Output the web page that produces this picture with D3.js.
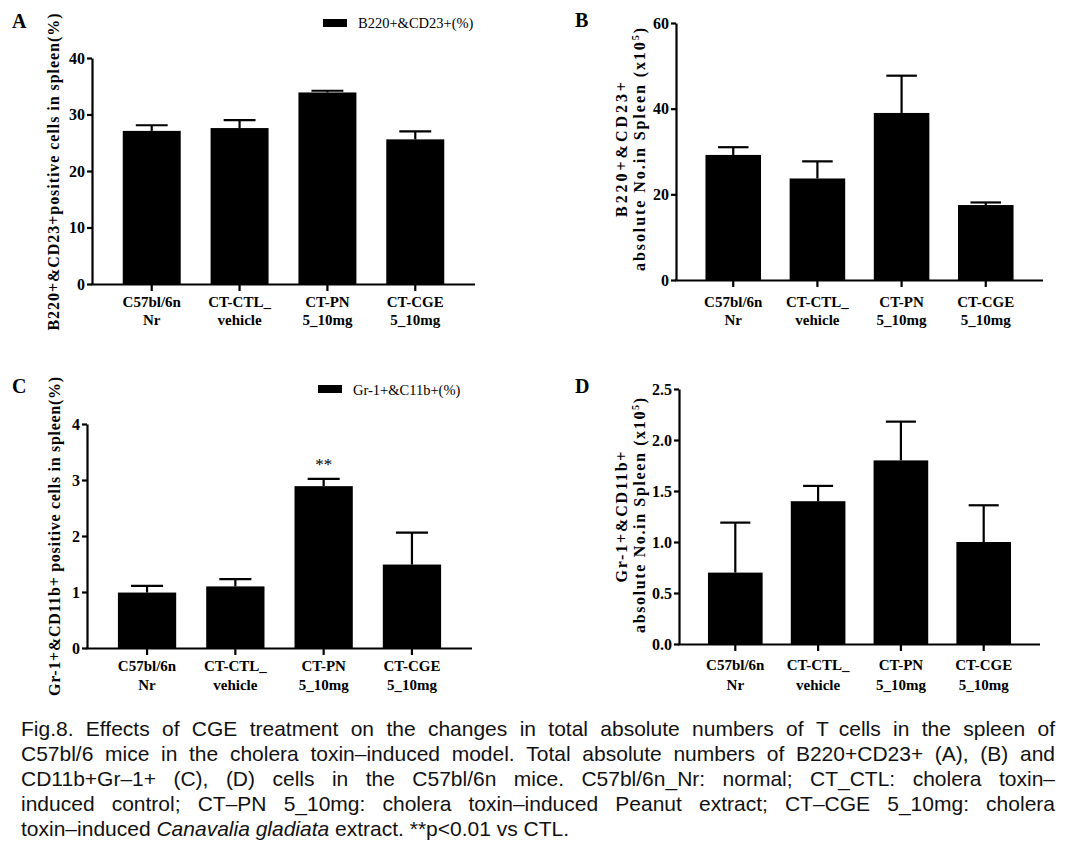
<!DOCTYPE html>
<html><head><meta charset="utf-8">
<script src="https://cdn.jsdelivr.net/npm/d3@7"></script>
<style>body{margin:0;background:#fff} svg{display:block}</style>
</head><body>
<svg id="c" width="1076" height="848"></svg>
<script>
// ---------- data ----------
const groupTop = ["C57bl/6n", "CT-CTL_", "CT-PN", "CT-CGE"];
const groupBottom = ["Nr", "vehicle", "5_10mg", "5_10mg"];
const b220Pct = [27.1, 27.6, 33.9, 25.6];
const b220PctErr = [1.0, 1.4, 0.3, 1.4];
const b220Abs = [29.2, 23.7, 39.0, 17.5];
const b220AbsErr = [1.8, 4.0, 8.7, 0.6];
const gr1Pct = [0.99, 1.1, 2.89, 1.49];
const gr1PctErr = [0.12, 0.13, 0.13, 0.57];
const gr1Abs = [0.7, 1.4, 1.8, 1.0];
const gr1AbsErr = [0.49, 0.15, 0.38, 0.36];
const ticksA = [0, 10, 20, 30, 40];
const ticksB = [0, 20, 40, 60];
const ticksC = [0, 1, 2, 3, 4];
const ticksD = [0, 0.5, 1.0, 1.5, 2.0, 2.5];
const sigC = ["", "", "**", ""];
const legendA = "B220+&CD23+(%)";
const legendC = "Gr-1+&C11b+(%)";
const captionLines = [
  "Fig.8. Effects of CGE treatment on the changes in total absolute numbers of T cells in the spleen of",
  "C57bl/6 mice in the cholera toxin–induced model. Total absolute numbers of B220+CD23+ (A), (B) and",
  "CD11b+Gr–1+ (C), (D) cells in the C57bl/6n mice. C57bl/6n_Nr: normal; CT_CTL: cholera toxin–",
  "induced control; CT–PN 5_10mg: cholera toxin–induced Peanut extract; CT–CGE 5_10mg: cholera"
];
const captionLast = [["toxin–induced ", false], ["Canavalia gladiata", true], [" extract. **p<0.01 vs CTL.", false]];

// ---------- drawing ----------
const svg = d3.select("#c");
const serif = "'Liberation Serif','Times New Roman',serif";

const panels = [
  {letter: "A", lx: 12, ly: 28, means: b220Pct, errs: b220PctErr, ticks: ticksA, fmt: d3.format("d"), max: 40,
   x0: 92, x1: 475, yt: 58, yb: 284, l1: 23, l2: 41,
   titles: [{t: "B220+&CD23+positive cells in spleen(%)", bx: 59, yc: 172, len: 317}],
   legend: {text: legendA, rx: 323, ry: 19, tx: 358, ty: 28}},
  {letter: "B", lx: 575, ly: 27, means: b220Abs, errs: b220AbsErr, ticks: ticksB, fmt: d3.format("d"), max: 60,
   x0: 676, x1: 1043, yt: 23, yb: 280, l1: 27, l2: 45,
   titles: [{t: "B220+&CD23+", bx: 627, yc: 149.5, len: 135},
            {t: "absolute No.in Spleen (x10", sup: "5", end: ")", bx: 645, yc: 149.5, len: 243}]},
  {letter: "C", lx: 12, ly: 393, means: gr1Pct, errs: gr1PctErr, ticks: ticksC, fmt: d3.format("d"), max: 4,
   x0: 87, x1: 472, yt: 424, yb: 648, l1: 23, l2: 42, sig: sigC,
   titles: [{t: "Gr-1+&CD11b+ positive cells in spleen(%)", bx: 60, yc: 536.5, len: 319}],
   legend: {text: legendC, rx: 318, ry: 385, tx: 353, ty: 395}},
  {letter: "D", lx: 575, ly: 393, means: gr1Abs, errs: gr1AbsErr, ticks: ticksD, fmt: d3.format(".1f"), max: 2.5,
   x0: 679, x1: 1040, yt: 389, yb: 644, l1: 26, l2: 46,
   titles: [{t: "Gr-1+&CD11b+", bx: 627, yc: 517, len: 131},
            {t: "absolute No.in Spleen (x10", sup: "5", end: ")", bx: 645, yc: 515.5, len: 235}]}
];

panels.forEach(p => {
  const g = svg.append("g");
  const x = d3.scaleBand().domain(d3.range(p.means.length)).range([p.x0, p.x1])
    .paddingInner(0.34).paddingOuter(0.35);
  const y = d3.scaleLinear().domain([0, p.max]).range([p.yb, p.yt]);
  const bw = x.bandwidth();
  const cw = bw * 0.55;
  const cx = i => x(i) + bw / 2;

  // bars
  g.selectAll("rect.bar").data(p.means).join("rect").attr("class", "bar")
    .attr("x", (d, i) => x(i)).attr("width", bw)
    .attr("y", d => y(d)).attr("height", d => y(0) - y(d)).attr("fill", "#000");

  // error bars
  const tops = p.means.map((m, i) => m + p.errs[i]);
  g.selectAll("line.ev").data(p.means).join("line").attr("class", "ev")
    .attr("x1", (d, i) => cx(i)).attr("x2", (d, i) => cx(i))
    .attr("y1", d => y(d)).attr("y2", (d, i) => y(tops[i]))
    .attr("stroke", "#000").attr("stroke-width", 2.2);
  g.selectAll("line.ec").data(tops).join("line").attr("class", "ec")
    .attr("x1", (d, i) => cx(i) - cw / 2).attr("x2", (d, i) => cx(i) + cw / 2)
    .attr("y1", d => y(d)).attr("y2", d => y(d))
    .attr("stroke", "#000").attr("stroke-width", 2.2);

  // significance
  if (p.sig) {
    g.selectAll("text.sig").data(p.sig).join("text").attr("class", "sig")
      .attr("x", (d, i) => cx(i)).attr("y", (d, i) => y(tops[i]) - 9)
      .attr("text-anchor", "middle").attr("font-family", serif).attr("font-size", 17)
      .text(d => d);
  }

  // y axis
  const ya = g.append("g").attr("transform", `translate(${p.x0},0)`)
    .call(d3.axisLeft(y).tickValues(p.ticks).tickFormat(p.fmt).tickSize(5).tickSizeOuter(0).tickPadding(2));
  // x axis
  const xa = g.append("g").attr("transform", `translate(0,${p.yb})`)
    .call(d3.axisBottom(x).tickSize(7).tickSizeOuter(0).tickFormat(""));
  [ya, xa].forEach(a => {
    a.selectAll("path,line").attr("stroke", "#000").attr("stroke-width", 2.2);
    a.selectAll("text").attr("font-family", serif).attr("font-weight", "bold")
      .attr("font-size", 16).attr("fill", "#000");
  });
  xa.select("path.domain").attr("d", `M${p.x0 - 1},0.5H${p.x1}`);

  // x labels
  g.selectAll("text.xl1").data(groupTop).join("text").attr("class", "xl1")
    .attr("x", (d, i) => cx(i)).attr("y", p.yb + p.l1).attr("text-anchor", "middle")
    .attr("font-family", serif).attr("font-weight", "bold").attr("font-size", 15).text(d => d);
  g.selectAll("text.xl2").data(groupBottom).join("text").attr("class", "xl2")
    .attr("x", (d, i) => cx(i)).attr("y", p.yb + p.l2).attr("text-anchor", "middle")
    .attr("font-family", serif).attr("font-weight", "bold").attr("font-size", 15).text(d => d);

  // y titles
  p.titles.forEach(tt => {
    const t = g.append("text").attr("transform", `translate(${tt.bx},${tt.yc}) rotate(-90)`)
      .attr("text-anchor", "middle").attr("font-family", serif).attr("font-weight", "bold")
      .attr("font-size", 16).attr("textLength", tt.len).attr("lengthAdjust", "spacing");
    t.append("tspan").text(tt.t);
    if (tt.sup) {
      t.append("tspan").attr("dy", -6).attr("font-size", 10).text(tt.sup);
      t.append("tspan").attr("dy", 6).text(tt.end);
    }
  });

  // panel letter
  g.append("text").attr("x", p.lx).attr("y", p.ly).attr("font-family", serif)
    .attr("font-weight", "bold").attr("font-size", 20).text(p.letter);

  // legend
  if (p.legend) {
    g.append("rect").attr("x", p.legend.rx).attr("y", p.legend.ry).attr("width", 24).attr("height", 8).attr("fill", "#000");
    g.append("text").attr("x", p.legend.tx).attr("y", p.legend.ty).attr("font-family", serif)
      .attr("font-size", 14.5).text(p.legend.text);
  }
});

// ---------- caption ----------
const capFont = "'Liberation Sans',Arial,sans-serif";
const capX0 = 21, capX1 = 1055, capY0 = 736, capDy = 25, capSize = 21;
captionLines.forEach((line, li) => {
  const words = line.split(" ");
  const t = svg.append("text").attr("y", capY0 + li * capDy)
    .attr("font-family", capFont).attr("font-size", capSize).attr("fill", "#111");
  const spans = words.map(w => t.append("tspan").text(w));
  const widths = spans.map(s => s.node().getComputedTextLength());
  const total = d3.sum(widths);
  const gap = (capX1 - capX0 - total) / (words.length - 1);
  let xx = capX0;
  spans.forEach((s, i) => { s.attr("x", xx); xx += widths[i] + gap; });
});
const tl = svg.append("text").attr("x", capX0).attr("y", capY0 + 4 * capDy)
  .attr("font-family", capFont).attr("font-size", capSize).attr("fill", "#111")
  .attr("xml:space", "preserve");
captionLast.forEach(([s, it]) => {
  tl.append("tspan").attr("font-style", it ? "italic" : "normal").text(s);
});
</script>
</body></html>
